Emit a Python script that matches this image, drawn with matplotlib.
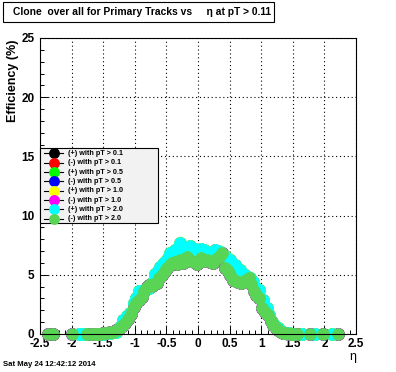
import matplotlib
matplotlib.use("Agg")
import matplotlib.pyplot as plt
from matplotlib.lines import Line2D
from matplotlib.patches import Rectangle

plt.rcParams['font.family'] = ['Liberation Sans', 'DejaVu Sans']

# ---- data ----
eta_minus = [-2.37, -2.29, -1.99, -1.75, -1.70, -1.65, -1.60, -1.55, -1.50, -1.45,
             -1.40, -1.35, -1.30, -1.25, -1.20, -1.15, -1.10, -1.06, -1.02, -0.98,
             -0.94, -0.89, -0.85, -0.81, -0.77, -0.73, -0.69, -0.65, -0.61, -0.57,
             -0.53, -0.49, -0.45, -0.41, -0.37, -0.33, -0.28, -0.24, -0.20, -0.17,
             -0.12, -0.07, -0.02, 0.04, 0.09, 0.14, 0.19, 0.24, 0.29, 0.34,
             0.38, 0.43, 0.47, 0.51, 0.56, 0.60, 0.64, 0.68, 0.72, 0.76,
             0.80, 0.84, 0.88, 0.92, 0.96, 1.01, 1.06, 1.11, 1.15, 1.19,
             1.23, 1.27, 1.31, 1.35, 1.40, 1.46, 1.51, 1.56, 1.77, 1.98, 2.22]
eff_minus = [0, 0, 0, 0, 0, 0, 0, 0, 0.05, 0.1,
             0.15, 0.2, 0.3, 0.45, 0.65, 0.9, 1.3, 1.7, 2.3, 2.6,
             2.9, 3.15, 3.6, 4.0, 4.1, 4.05, 4.2, 4.3, 4.7, 5.0,
             5.3, 5.6, 5.8, 6.0, 6.1, 5.9, 6.25, 6.0, 6.3, 6.5,
             6.2, 6.1, 5.9, 6.4, 6.2, 6.25, 6.1, 6.0, 6.3, 6.5,
             6.8, 5.6, 5.3, 5.0, 4.55, 4.5, 4.4, 4.3, 4.4, 4.6,
             4.7, 4.2, 3.6, 3.3, 3.0, 2.2, 1.9, 1.6, 1.1, 0.76,
             0.5, 0.34, 0.2, 0.1, 0.05, 0, 0, 0, 0, 0, 0]

eta_plus = [-1.89, -1.83, -1.78, -1.60, -1.50, -1.40, -1.30, -1.23, -1.18, -1.12,
            -1.07, -1.02, -0.98, -0.94, -0.89, -0.84, -0.78, -0.73, -0.68, -0.64,
            -0.60, -0.56, -0.52, -0.48, -0.44, -0.40, -0.36, -0.32, -0.28, -0.20,
            -0.12, -0.04, 0.04, 0.09, 0.14, 0.19, 0.24, 0.27, 0.31, 0.35,
            0.43, 0.51, 0.59, 0.67, 0.75, 0.83, 0.87, 0.91, 0.96, 1.03,
            1.09, 1.13, 1.17, 1.22, 1.27, 1.32, 1.38, 1.44, 1.50, 1.64, 1.85, 2.12]
eff_plus = [0, 0, 0, 0, 0, 0.05, 0.2, 0.6, 1.2, 1.5,
            1.8, 2.6, 3.0, 3.6, 3.4, 3.7, 3.9, 4.3, 5.1, 5.3,
            5.7, 5.9, 6.1, 6.4, 6.8, 6.9, 7.1, 7.0, 7.7, 7.0,
            7.4, 7.2, 7.2, 7.1, 6.8, 6.7, 6.95, 7.1, 7.0, 6.9,
            6.6, 6.25, 5.8, 5.4, 5.0, 4.7, 4.4, 3.9, 3.7, 2.9,
            2.2, 1.6, 1.0, 0.7, 0.5, 0.25, 0.1, 0.05, 0, 0, 0, 0]

labels = ["(+) with pT > 0.1", "(-) with pT > 0.1", "(+) with pT > 0.5", "(-) with pT > 0.5",
          "(+) with pT > 1.0", "(-) with pT > 1.0", "(+) with pT > 2.0", "(-) with pT > 2.0"]
colors = ["#000000", "#ff0000", "#00ff00", "#0000ff", "#ffff00", "#ff00ff", "#00ffff", "#59d454"]
series = [(eta_plus, eff_plus), (eta_minus, eff_minus)] * 4

title = "Clone  over all for Primary Tracks vs     \u03b7 at pT > 0.11"
date_text = "Sat May 24 12:42:12 2014"

W, H = 396, 372
fig = plt.figure(figsize=(W / 100, H / 100), dpi=100)
fig.patch.set_facecolor("white")

def fx(px):
    return px / W

def fy(py):
    return 1 - py / H

ax = fig.add_axes([fx(40), fy(334), fx(356) - fx(40), fy(38) - fy(334)])
for (x, y), c in zip(series, colors):
    ax.plot(x, y, 'o', ms=8.6, color=c, mec=c, mew=0.5, linestyle='none', clip_on=False)

ax.set_xlim(-2.5, 2.5)
ax.set_ylim(0, 25)
ax.set_xticks([-2.5, -2, -1.5, -1, -0.5, 0, 0.5, 1, 1.5, 2, 2.5])
ax.set_xticklabels(["-2.5", "-2", "-1.5", "-1", "-0.5", "0", "0.5", "1", "1.5", "2", "2.5"])
ax.set_yticks([0, 5, 10, 15, 20, 25])
ax.set_xticks([i / 10 for i in range(-25, 26)], minor=True)
ax.set_yticks(list(range(0, 26)), minor=True)
ax.tick_params(which='both', direction='in', top=False, right=False, width=0.7)
ax.tick_params(which='major', length=6, labelsize=8.5)
ax.tick_params(axis='x', which='major', pad=3)
ax.tick_params(axis='y', which='major', pad=4)
ax.tick_params(which='minor', length=3)
for lab in ax.get_xticklabels() + ax.get_yticklabels():
    lab.set_fontweight('bold')
ax.grid(True, which='major', color='black', linestyle=(0, (1, 2.5)), linewidth=0.8)
for s in ax.spines.values():
    s.set_linewidth(0.8)

# title box
fig.patches.append(Rectangle((fx(3), fy(22)), fx(274) - fx(3), fy(2) - fy(22),
                             transform=fig.transFigure, facecolor='white',
                             edgecolor='black', linewidth=0.8))
fig.text(fx(13), fy(12), title, fontsize=7.4, fontweight='bold', ha='left', va='center')

# legend
fig.patches.append(Rectangle((fx(40), fy(222.5)), fx(158) - fx(40), fy(148) - fy(222.5),
                             transform=fig.transFigure, facecolor='#f2f2f2',
                             edgecolor='black', linewidth=0.8, zorder=5))
for i, (lab, c) in enumerate(zip(labels, colors)):
    yy = fy(153.3 + i * 9.35)
    fig.lines.append(Line2D([fx(44), fx(63)], [yy, yy], color='black', linewidth=0.8,
                            transform=fig.transFigure, zorder=6))
    fig.lines.append(Line2D([fx(53.5)], [yy], marker='o', ms=6.8, color=c, mec=c,
                            transform=fig.transFigure, zorder=7))
    fig.text(fx(68), yy, lab, fontsize=5.2, fontweight='bold', ha='left', va='center', zorder=8)

fig.text(fx(13), fy(40), "Efficiency (%)", rotation=90, fontsize=9, fontweight='bold',
         ha='center', va='top')
fig.text(fx(356), fy(357), "\u03b7", fontsize=9, ha='right', va='center')
fig.text(fx(3), fy(364), date_text, fontsize=5.6, fontweight='bold', ha='left', va='center')

fig.savefig("out.png", dpi=100)
